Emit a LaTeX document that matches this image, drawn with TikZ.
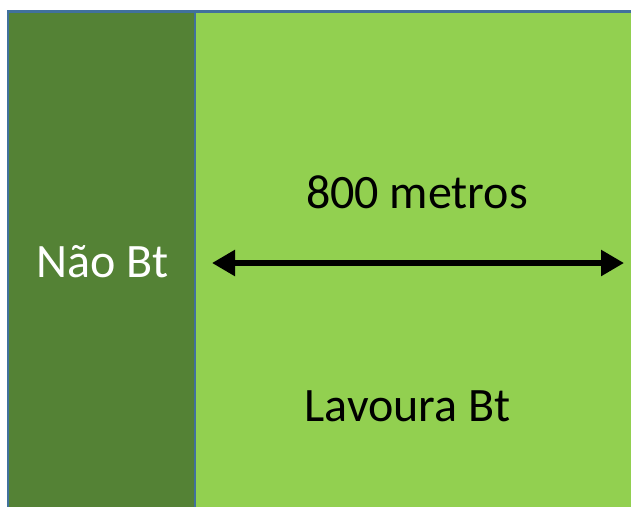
\documentclass[tikz,border=0pt]{standalone}
\usepackage{fontspec}
\setmainfont{Carlito}
\usetikzlibrary{arrows.meta}
\definecolor{darkg}{HTML}{548235}
\definecolor{lightg}{HTML}{92D050}
\definecolor{edgeb}{HTML}{41719C}
\tikzset{
  field/.style={draw=edgeb, line width=2.5pt},
  lbl/.style={anchor=base, inner sep=0pt, font=\fontsize{48}{57}\selectfont},
  dimarrow/.style={line width=5.5pt, {Triangle[length=23pt,width=25pt]}-{Triangle[length=23pt,width=25pt]}}
}
\begin{document}
\begin{tikzpicture}[x=1pt,y=-1pt]
\useasboundingbox (0,0) rectangle (631,506);
\fill[white] (0,0) rectangle (631,506);
\begin{scope}
\clip (0,0) rectangle (631,506);
\path[field, fill=lightg] (195,11.5) rectangle (650,530);
\path[field, fill=darkg] (8,11.5) rectangle (195,530);
\end{scope}
\node[lbl, text=white] (nao) at (102.5,277) {Não Bt};
\node[lbl] (dist) at (417,208) {800 metros};
\node[lbl] (lav) at (407.5,421) {Lavoura Bt};
\coordinate (L) at (212,263);
\coordinate (R) at (624,263);
\draw[dimarrow] (L) -- (R);
\end{tikzpicture}
\end{document}
